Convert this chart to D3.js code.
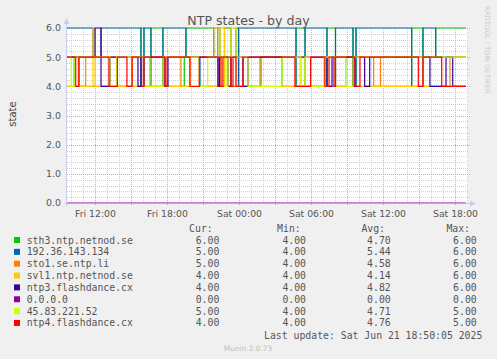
<!DOCTYPE html>
<html><head><meta charset="utf-8">
<script src="https://cdn.jsdelivr.net/npm/d3@7"></script>
<style>html,body{margin:0;padding:0;background:#f0f0f0;} svg{display:block}</style>
</head><body><svg id="c" width="497" height="359"></svg>
<script>
// ---- data (hours since Fri 2025-06-20 00:00, state value) ----
const seriesNames = ["sth3.ntp.netnod.se","192.36.143.134","sto1.se.ntp.li","svl1.ntp.netnod.se","ntp3.flashdance.cx","0.0.0.0","45.83.221.52","ntp4.flashdance.cx"];
const seriesColors = ["#00cc00","#0066b3","#ff8000","#ffcc00","#330099","#990099","#ccff00","#ff0000"];
const curValues = ["6.00","5.00","5.00","4.00","4.00","0.00","5.00","4.00"];
const minValues = ["4.00","4.00","4.00","4.00","4.00","0.00","4.00","4.00"];
const avgValues = ["4.70","5.44","4.58","4.14","4.82","0.00","4.71","4.76"];
const maxValues = ["6.00","6.00","6.00","6.00","6.00","0.00","5.00","5.00"];
const yTickValues = [0,1,2,3,4,5,6];
const lastHour = 42.87;

const sth3 = [[9.62,4],[10.21,5],[10.62,4],[15.79,6],[16.04,4],[16.54,5],[16.62,6],[17.62,4],[19.40,5],[19.54,6],[21.85,5],[22.18,6],[22.37,5],[22.75,6],[23.29,5],[23.71,6],[23.92,4],[25.79,5],[27.54,4],[28.71,6],[29.46,4],[31.29,6],[32.0,4],[32.85,5],[33.46,6],[33.71,4],[38.35,6],[39.29,5],[40.35,6]];
const ip192 = [[9.62,6],[11.79,5],[12.46,6],[15.79,4],[16.04,6],[16.62,4],[17.62,6],[19.54,5],[20.71,4],[23.92,6],[28.71,4],[29.46,6],[31.29,4],[32.0,6],[33.46,4],[33.71,6],[38.35,4],[39.29,6],[40.35,5]];
const sto1 = [[9.62,5],[10.57,4],[11.18,5],[13.82,4],[15.07,5],[19.12,4],[19.87,5],[21.85,6],[22.18,4],[25.71,5],[28.67,4],[31.08,5],[35.18,4],[35.75,5],[39.29,4],[41.54,5]];
const svl1 = [[9.62,4],[11.79,6],[11.96,4],[19.87,5],[20.65,4],[22.37,6],[22.75,4],[23.29,6],[23.71,4],[29.12,5],[29.46,4]];
const ntp3 = [[9.62,5],[11.96,6],[12.46,4],[13.21,5],[15.54,4],[15.79,5],[17.79,4],[18.04,5],[22.21,4],[22.33,5],[23.04,4],[23.29,5],[24.29,4],[24.71,5],[31.29,4],[31.71,5],[33.46,4],[33.62,5],[34.43,4],[34.85,5],[39.87,4],[41.21,5],[41.77,4]];
const zero = [[9.62,0]];
const ip45 = [[9.62,5],[9.98,4],[10.21,5],[13.2,4],[13.75,5],[16.54,4],[17.62,5],[20.65,4],[21.35,5],[22.87,4],[23.04,5],[24.71,4],[27.54,5],[29.12,4],[29.46,5],[29.93,4],[31.04,5],[32.85,4],[33.46,5]];
const ntp4 = [[9.62,5],[10.35,4],[10.62,5],[13.12,4],[13.82,5],[14.62,4],[15.04,5],[15.85,4],[16.04,5],[17.79,4],[17.96,5],[19.87,4],[20.65,5],[22.46,4],[22.62,5],[23.29,4],[23.46,5],[23.71,4],[24.29,5],[28.62,4],[29.93,5],[31.12,4],[31.46,5],[31.87,4],[32.0,5],[33.62,4],[34.04,5],[38.9,4],[39.29,5],[40.85,4]];
const seriesData = [sth3, ip192, sto1, svl1, ntp3, zero, ip45, ntp4];

// ---- chart ----
const svg = d3.select("#c");
const base = new Date(2025,5,20,0,0,0).getTime();
const t = h => new Date(base + h*3600000);
const L = 67, R = 468, T = 28, B = 203;
const x = d3.scaleTime().domain([t(9.625), t(43.042)]).range([L, R]);
const y = d3.scaleLinear().domain([0,6]).range([B, T]);

svg.append("rect").attr("x",0).attr("y",0).attr("width",497).attr("height",359).attr("fill","#f0f0f0");
svg.append("rect").attr("x",L).attr("y",T).attr("width",R-L).attr("height",B-T).attr("fill","#ffffff");

const g = svg.append("g").attr("shape-rendering","crispEdges");
d3.range(0, 6.001, 0.2).forEach(v => {
  if (Math.abs(v - Math.round(v)) < 1e-6) return;
  g.append("line").attr("x1",L).attr("x2",R).attr("y1",Math.round(y(v))+0.5).attr("y2",Math.round(y(v))+0.5)
   .attr("stroke","#cfcfcf").attr("stroke-dasharray","1,1");
});
x.ticks(d3.timeHour.every(1)).forEach(d => {
  if (d.getHours() % 3 === 0) return;
  const px = Math.round(x(d))+0.5;
  g.append("line").attr("x1",px).attr("x2",px).attr("y1",T).attr("y2",B)
   .attr("stroke","#cfcfcf").attr("stroke-dasharray","1,1");
});
yTickValues.forEach(v => {
  g.append("line").attr("x1",L).attr("x2",R+2).attr("y1",Math.round(y(v))+0.5).attr("y2",Math.round(y(v))+0.5)
   .attr("stroke","#e4a0a0").attr("stroke-dasharray","1,1");
});
x.ticks(d3.timeHour.every(3)).forEach(d => {
  const px = Math.round(x(d))+0.5;
  g.append("line").attr("x1",px).attr("x2",px).attr("y1",T).attr("y2",B+3)
   .attr("stroke","#e4a0a0").attr("stroke-dasharray","1,1");
});

// series
const line = d3.line().x(d => x(t(d[0]))).y(d => y(d[1])).curve(d3.curveStepAfter);
seriesData.forEach((s,i) => {
  const pts = s.concat([[lastHour, s[s.length-1][1]]]);
  svg.append("path").attr("d", line(pts)).attr("fill","none")
    .attr("stroke", seriesColors[i]).attr("stroke-width",1.2);
});

// axes (drawn over the graph)
svg.append("line").attr("x1",L-0.5).attr("x2",L-0.5).attr("y1",B+3).attr("y2",T-6).attr("stroke","#c8cdf0");
svg.append("line").attr("x1",L-3).attr("x2",R+3).attr("y1",B+0.5).attr("y2",B+0.5).attr("stroke","#c8cdf0").attr("stroke-opacity",0.6);
svg.append("path").attr("d",`M${L-3.5},${T-4} L${L+2.5},${T-4} L${L-0.5},${T-10} Z`).attr("fill","#c8cdf0");
svg.append("path").attr("d",`M${R+2},${B-2.5} L${R+2},${B+3.5} L${R+8},${B+0.5} Z`).attr("fill","#c8cdf0");

const font = "DejaVu Sans, sans-serif";
const mono = "DejaVu Sans Mono, monospace";
yTickValues.forEach(v => {
  svg.append("text").attr("x",61).attr("y",y(v)+3.4).attr("text-anchor","end")
    .attr("font-family",font).attr("font-size","9.4px").attr("fill","#555").text(d3.format(".1f")(v));
});
const fmt = d3.timeFormat("%a %H:%M");
x.ticks(d3.timeHour.every(6)).forEach(d => {
  svg.append("text").attr("x",x(d)).attr("y",216.6).attr("text-anchor","middle")
    .attr("font-family",font).attr("font-size","9.3px").attr("fill","#555").text(fmt(d));
});

svg.append("text").attr("x",248.5).attr("y",24.5).attr("text-anchor","middle")
  .attr("font-family",font).attr("font-size","12.6px").attr("fill","#555").text("NTP states - by day");
svg.append("text").attr("transform","translate(15.5,114) rotate(-90)").attr("text-anchor","middle")
  .attr("font-family",font).attr("font-size","10px").attr("fill","#444").text("state");
svg.append("text").attr("transform","translate(484.8,6) rotate(90)").attr("text-anchor","start")
  .attr("font-family",font).attr("font-size","6.8px").attr("fill","#c8c8c8").text("RRDTOOL / TOBI OETIKER");

const lg = svg.append("g").attr("font-family",mono).attr("font-size","9.8px").attr("fill","#555");
const hdrY = 231.8;
[["Cur:",212.7],["Min:",300.7],["Avg:",385],["Max:",470]].forEach(([s,xx]) => {
  lg.append("text").attr("x",xx).attr("y",hdrY).attr("text-anchor","end").text(s);
});
const cols = [[curValues,219.3],[minValues,306],[avgValues,390.7],[maxValues,476.7]];
seriesNames.forEach((n,i) => {
  const cy = 240 + i*11.85;
  svg.append("rect").attr("x",14).attr("y",cy-3).attr("width",6).attr("height",6).attr("fill",seriesColors[i]);
  lg.append("text").attr("x",26.7).attr("y",cy+3.5).text(n);
  cols.forEach(([arr,xx]) => {
    lg.append("text").attr("x",xx).attr("y",cy+3.5).attr("text-anchor","end").text(arr[i]);
  });
});
lg.append("text").attr("x",482.3).attr("y",338.5).attr("text-anchor","end").text("Last update: Sat Jun 21 18:50:05 2025");
svg.append("text").attr("x",248).attr("y",351.2).attr("text-anchor","middle")
  .attr("font-family",font).attr("font-size","7.4px").attr("fill","#c0c0c0").text("Munin 2.0.73");
</script></body></html>
